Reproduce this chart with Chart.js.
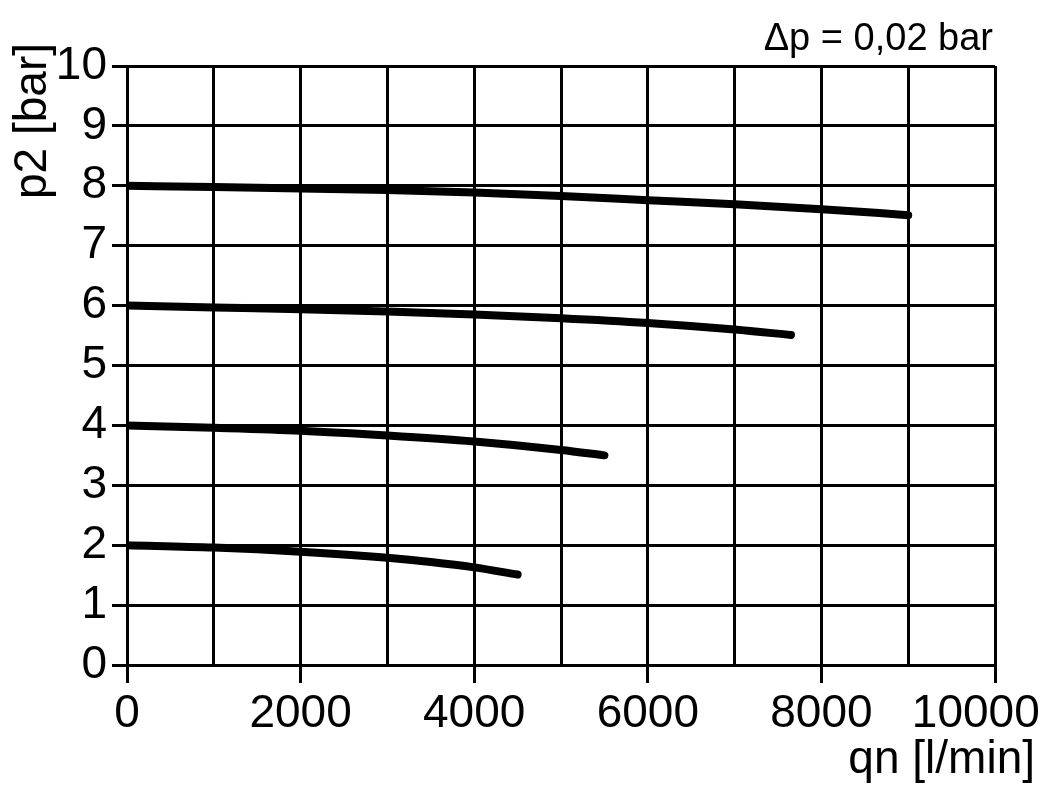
<!DOCTYPE html>
<html>
<head>
<meta charset="utf-8">
<script src="https://cdn.jsdelivr.net/npm/chart.js@4/dist/chart.umd.min.js"></script>
<style>
  html, body { margin: 0; padding: 0; background: #fff; }
  canvas { display: block; }
</style>
</head>
<body>
<canvas id="flowChart" width="1051" height="803"></canvas>
<script>
// flow curves, one per set pressure
const qn8bar = [0, 1000, 2000, 3000, 4000, 5000, 6000, 7000, 8000, 9000];
const p2at8bar = [8.0, 7.98, 7.955, 7.93, 7.89, 7.83, 7.76, 7.69, 7.61, 7.51];

const qn6bar = [0, 1000, 2000, 3000, 4000, 5000, 6000, 7000, 7650];
const p2at6bar = [6.0, 5.97, 5.94, 5.9, 5.85, 5.79, 5.71, 5.6, 5.51];

const qn4bar = [0, 1000, 2000, 3000, 4000, 5000, 5500];
const p2at4bar = [4.0, 3.96, 3.91, 3.83, 3.73, 3.59, 3.5];

const qn2bar = [0, 1000, 2000, 3000, 3500, 4000, 4500];
const p2at2bar = [2.0, 1.96, 1.89, 1.79, 1.72, 1.63, 1.51];

const xLabelEvery = 2000;
const xTitle = 'qn [l/min]';
const yTitle = 'p2 [bar]';
const deltaNote = '\u0394p = 0,02 bar';

const FONT = "'Liberation Sans', Arial, sans-serif";
const TICK_SIZE = 46;

function toPoints(xs, ys) {
  return xs.map((x, i) => ({ x: x, y: ys[i] }));
}

function curve(xs, ys) {
  return {
    data: toPoints(xs, ys),
    borderColor: '#000',
    borderWidth: 8,
    borderCapStyle: 'round',
    pointRadius: 0,
    cubicInterpolationMode: 'monotone',
    fill: false
  };
}

// axis titles and the note are drawn relative to the plot box
const extraText = {
  id: 'extraText',
  afterDraw(chart) {
    const ctx = chart.ctx;
    const area = chart.chartArea;
    ctx.save();
    ctx.fillStyle = '#000';
    ctx.textBaseline = 'alphabetic';
    ctx.textAlign = 'right';
    ctx.font = '38px ' + FONT;
    ctx.fillText(deltaNote, area.right - 2, 50);
    ctx.font = TICK_SIZE + 'px ' + FONT;
    ctx.fillText(xTitle, area.right + 40, 773);
    ctx.translate(46, area.top - 23);
    ctx.rotate(-Math.PI / 2);
    ctx.fillText(yTitle, 0, 0);
    ctx.restore();
  }
};

const chart = new Chart(document.getElementById('flowChart').getContext('2d'), {
  type: 'line',
  data: {
    datasets: [
      curve(qn8bar, p2at8bar),
      curve(qn6bar, p2at6bar),
      curve(qn4bar, p2at4bar),
      curve(qn2bar, p2at2bar)
    ]
  },
  options: {
    responsive: false,
    animation: false,
    layout: { padding: { left: 0, right: 56, top: 66, bottom: 0 } },
    plugins: {
      legend: { display: false },
      tooltip: { enabled: false }
    },
    scales: {
      x: {
        type: 'linear',
        min: 0,
        max: 10000,
        ticks: {
          stepSize: 1000,
          autoSkip: false,
          maxRotation: 0,
          padding: 4,
          color: '#000',
          font: { family: FONT, size: TICK_SIZE },
          callback: function (v) {
            if (v % xLabelEvery !== 0) return '';
            return v === 10000 ? v + '   ' : String(v);
          }
        },
        grid: {
          color: '#000',
          lineWidth: 3,
          tickLength: 18,
          tickColor: ctx => (ctx.tick && ctx.tick.value % xLabelEvery === 0) ? '#000' : 'rgba(0,0,0,0)'
        },
        border: { color: '#000', width: 3 },
        afterFit: function (scale) {
          scale.height = 138;
          scale.paddingLeft = 0;
          scale.paddingRight = 0;
        }
      },
      y: {
        min: 0,
        max: 10,
        ticks: {
          stepSize: 1,
          autoSkip: false,
          padding: 5,
          color: '#000',
          font: { family: FONT, size: TICK_SIZE }
        },
        grid: {
          color: '#000',
          lineWidth: 3,
          tickLength: 15
        },
        border: { color: '#000', width: 3 },
        afterFit: function (scale) {
          scale.width = 127;
        }
      }
    }
  },
  plugins: [extraText]
});
</script>
</body>
</html>
